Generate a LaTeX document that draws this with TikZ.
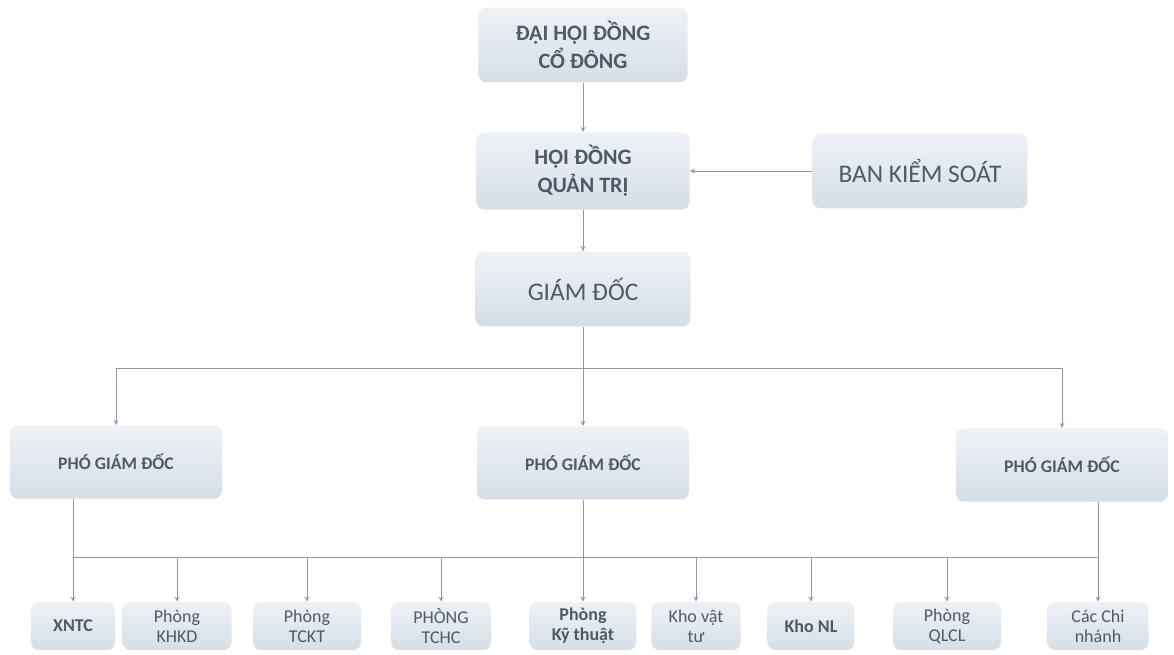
\documentclass[tikz,border=0pt]{standalone}
\usepackage{fontspec}
\setmainfont{Carlito}
\usetikzlibrary{arrows.meta,positioning}
\definecolor{cfillt}{HTML}{EEF2F6}
\definecolor{cfillb}{HTML}{D5DEE7}
\definecolor{ctext}{HTML}{4E5A68}
\definecolor{clink}{HTML}{8E99A6}
\tikzset{
  box/.style={rounded corners=6pt, top color=cfillt, bottom color=cfillb, draw=none, text=ctext, align=center, inner sep=2pt},
  headbox/.style={box, minimum width=160pt, minimum height=56pt, font=\fontsize{16.5}{21}\selectfont\bfseries},
  bigbox/.style={box, minimum width=161pt, minimum height=56pt, font=\fontsize{19}{23}\selectfont},
  deputy/.style={box, minimum width=159pt, minimum height=55pt, font=\fontsize{13.3}{16}\selectfont\bfseries},
  unit/.style={box, minimum height=36pt, font=\fontsize{13.5}{15}\selectfont},
  rail/.style={draw=clink, line width=0.7pt},
  link/.style={rail, -{Stealth[length=4pt,width=3.6pt]}},
}

\begin{document}
\begin{tikzpicture}[x=0.75pt,y=-0.75pt]
\useasboundingbox (0,0) rectangle (1174,655);
% ---------------- top of the chart
\node[headbox, minimum width=157pt] (dhdcd) at (583,45) {ĐẠI HỘI ĐỒNG\\CỔ ĐÔNG};
\node[headbox, minimum height=58pt] (hdqt) at (583,171) {HỘI ĐỒNG\\QUẢN TRỊ};
\node[bigbox] (bks) at (920,171) {BAN KIỂM SOÁT};
\node[bigbox] (gd) at (583,289) {GIÁM ĐỐC};
\draw[link] (dhdcd) -- (hdqt);
\draw[link] (bks) -- (hdqt);
\draw[link] (hdqt) -- (gd);
% ---------------- deputies
\node[deputy] (pgd1) at (116,462) {PHÓ GIÁM ĐỐC};
\node[deputy] (pgd2) at (583,463) {PHÓ GIÁM ĐỐC};
\node[deputy] (pgd3) at (1062,465) {PHÓ GIÁM ĐỐC};
\coordinate (busT) at (583,368);
\draw[link] (gd) -- (pgd2);
\draw[link] (busT) -| (pgd1.north);
\draw[link] (busT) -| (pgd3.north);
% ---------------- departments
\foreach \n/\x/\w/\t in {xntc/73/63/{\bfseries XNTC}, khkd/177/82/{Phòng\\KHKD}, tckt/307/81/{Phòng\\TCKT},
  tchc/441/75/{PHÒNG\\TCHC}, kt/583/80/{\bfseries Phòng\\\bfseries Kỹ thuật}, kvt/696/67/{Kho vật\\tư},
  knl/811/65/{\bfseries Kho NL}, qlcl/947/81/{Phòng\\QLCL}, ccn/1098/76/{Các Chi\\nhánh}} {
  \node[unit, minimum width=\w pt] (\n) at (\x,626) {\t};
}
\coordinate (busB) at (583,557);
\draw[rail] (xntc |- pgd1.south) -- (xntc |- busB) -- (ccn |- busB);
\draw[rail] (pgd2.south) -- (busB);
\draw[rail] (ccn |- pgd3.south) -- (ccn |- busB);
\foreach \n in {xntc,khkd,tckt,tchc,kt,kvt,knl,qlcl,ccn}
  \draw[link] (\n |- busB) -- (\n.north);
\end{tikzpicture}
\end{document}
